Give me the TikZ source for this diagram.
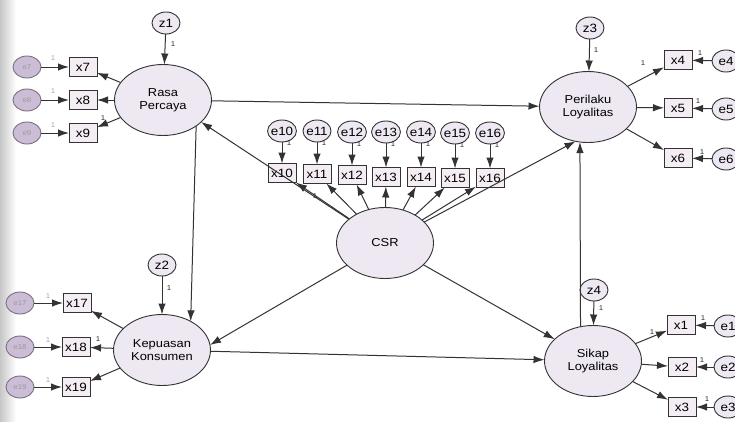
\documentclass[tikz,border=0pt]{standalone}
\usepackage{fontspec}
\setmainfont{Liberation Sans}[FakeStretch=1.12]
\usepackage{tkz-graph}
\usetikzlibrary{arrows.meta,shapes.geometric}

\definecolor{lila}{HTML}{EEE8F2}
\definecolor{lilabox}{HTML}{F4EEF4}
\definecolor{lilafade}{HTML}{CBBDD6}
\definecolor{trait}{HTML}{333333}

\tikzset{
  lat/.style={shape=ellipse,draw=trait,line width=0.9pt,fill=lila,minimum width=97pt,
    minimum height=71pt,inner sep=0pt,align=center,font=\fontsize{11.5}{13.5}\selectfont},
  obs/.style={shape=rectangle,draw=trait,line width=0.9pt,fill=lilabox,minimum width=28pt,
    minimum height=19pt,inner sep=1pt,font=\fontsize{12}{13}\selectfont},
  err/.style={shape=ellipse,draw=trait,line width=0.9pt,fill=lila,minimum width=28pt,
    minimum height=22pt,inner sep=-1pt,font=\fontsize{12}{13}\selectfont},
  errfade/.style={err,fill=lilafade,draw=lilafade!60!black,text=black!40,
    font=\fontsize{7}{8}\selectfont},
  one/.style={inner sep=0pt,font=\fontsize{7}{8}\selectfont,text=black!85},
  onefade/.style={one,text=black!35},
  jalur/.style={draw=trait,line width=1pt,-{Latex[length=11pt,width=7.5pt]}},
}

\begin{document}
\begin{tikzpicture}[x=1pt,y=-1pt]
\useasboundingbox (0,0) rectangle (735,421);
\shade[left color=black!22,right color=white] (0,0) rectangle (16,421);
\GraphInit[vstyle=Normal]
% variabel laten
\tikzset{VertexStyle/.style={lat}}
\Vertex[x=163,y=100,L={Rasa\\Percaya}]{RP}
\Vertex[x=162,y=350,L={Kepuasan\\Konsumen}]{KK}
\Vertex[x=588,y=107,L={Perilaku\\Loyalitas}]{PL}
\Vertex[x=593,y=361,L={Sikap\\Loyalitas}]{SL}
\Vertex[x=385,y=243,L=CSR]{CSR}
% indikator
\tikzset{VertexStyle/.style={obs}}
\Vertex[x=83,y=67,L=x7]{x7}
\Vertex[x=83,y=100,L=x8]{x8}
\Vertex[x=83,y=133,L=x9]{x9}
\Vertex[x=77,y=303,L=x17]{x17}
\Vertex[x=76,y=347,L=x18]{x18}
\Vertex[x=76,y=387,L=x19]{x19}
\Vertex[x=678,y=60,L=x4]{x4}
\Vertex[x=678,y=108,L=x5]{x5}
\Vertex[x=678,y=158,L=x6]{x6}
\Vertex[x=681,y=325,L=x1]{x1}
\Vertex[x=682,y=367,L=x2]{x2}
\Vertex[x=682,y=407,L=x3]{x3}
\Vertex[x=282,y=173,L=x10]{x10}
\Vertex[x=317,y=174,L=x11]{x11}
\Vertex[x=352,y=175,L=x12]{x12}
\Vertex[x=386,y=177,L=x13]{x13}
\Vertex[x=421,y=177,L=x14]{x14}
\Vertex[x=455,y=178,L=x15]{x15}
\Vertex[x=490,y=178,L=x16]{x16}
% residual dan error
\tikzset{VertexStyle/.style={err}}
\Vertex[x=166,y=23,L=z1]{z1}
\Vertex[x=162,y=265,L=z2]{z2}
\Vertex[x=590,y=28,L=z3]{z3}
\Vertex[x=594,y=290,L=z4]{z4}
\Vertex[x=282,y=131,L=e10]{e10}
\Vertex[x=317,y=131,L=e11]{e11}
\Vertex[x=352,y=132,L=e12]{e12}
\Vertex[x=386,y=132,L=e13]{e13}
\Vertex[x=421,y=132,L=e14]{e14}
\Vertex[x=455,y=133,L=e15]{e15}
\Vertex[x=490,y=133,L=e16]{e16}
\Vertex[x=726,y=61,L=e4]{e4}
\Vertex[x=726,y=109,L=e5]{e5}
\Vertex[x=726,y=159,L=e6]{e6}
\Vertex[x=728,y=326,L=e1]{e1}
\Vertex[x=728,y=367,L=e2]{e2}
\Vertex[x=728,y=407,L=e3]{e3}
\tikzset{VertexStyle/.style={errfade}}
\Vertex[x=27,y=67,L=e7]{e7}
\Vertex[x=27,y=100,L=e8]{e8}
\Vertex[x=27,y=133,L=e9]{e9}
\Vertex[x=20,y=303,L=e17]{e17}
\Vertex[x=20,y=347,L=e18]{e18}
\Vertex[x=20,y=387,L=e19]{e19}
% jalur struktural
\draw[jalur] (RP) -- (PL);
\draw[jalur] (RP.322) -- (KK.45);
\draw[jalur] (CSR) -- (RP.330);
\draw[jalur] (CSR) -- (KK.6);
\draw[jalur] (CSR) -- (PL.250);
\draw[jalur] (CSR) -- (SL);
\draw[jalur] (KK) -- (SL);
\draw[jalur] (SL.110) -- (PL.257);
\draw[jalur] (z1) -- (RP);
\draw[jalur] (z2) -- (KK);
\draw[jalur] (z3) -- (PL);
\draw[jalur] (z4) -- (SL);
% jalur pengukuran
\draw[jalur] (RP) -- (x7);
\draw[jalur] (RP) -- (x8);
\draw[jalur] (RP) -- (x9);
\draw[jalur] (KK) -- (x17);
\draw[jalur] (KK) -- (x18);
\draw[jalur] (KK) -- (x19);
\draw[jalur] (PL) -- (x4);
\draw[jalur] (PL) -- (x5);
\draw[jalur] (PL) -- (x6);
\draw[jalur] (SL) -- (x1);
\draw[jalur] (SL) -- (x2);
\draw[jalur] (SL) -- (x3);
\draw[jalur] (CSR) -- (x10);
\draw[jalur] (CSR) -- (x11);
\draw[jalur] (CSR) -- (x12);
\draw[jalur] (CSR) -- (x13);
\draw[jalur] (CSR) -- (x14);
\draw[jalur] (CSR) -- (x15);
\draw[jalur] (CSR) -- (x16);
\draw[jalur] (e7) -- (x7);
\draw[jalur] (e8) -- (x8);
\draw[jalur] (e9) -- (x9);
\draw[jalur] (e17) -- (x17);
\draw[jalur] (e18) -- (x18);
\draw[jalur] (e19) -- (x19);
\draw[jalur] (e4) -- (x4);
\draw[jalur] (e5) -- (x5);
\draw[jalur] (e6) -- (x6);
\draw[jalur] (e1) -- (x1);
\draw[jalur] (e2) -- (x2);
\draw[jalur] (e3) -- (x3);
\draw[jalur] (e10) -- (x10);
\draw[jalur] (e11) -- (x11);
\draw[jalur] (e12) -- (x12);
\draw[jalur] (e13) -- (x13);
\draw[jalur] (e14) -- (x14);
\draw[jalur] (e15) -- (x15);
\draw[jalur] (e16) -- (x16);
% bobot 1
\node[one] (w-z1) at (173,44) {1};
\node[one] (w-z2) at (169,288) {1};
\node[one] (w-z3) at (596,50) {1};
\node[one] (w-z4) at (601,308) {1};
\node[onefade] (w-e7) at (53,58) {1};
\node[onefade] (w-e8) at (53,91) {1};
\node[onefade] (w-e9) at (53,125) {1};
\node[onefade] (w-e17) at (48,296) {1};
\node[onefade] (w-e18) at (48,340) {1};
\node[onefade] (w-e19) at (48,380) {1};
\node[one] (w-x9) at (103,118) {1};
\node[one] (w-x18) at (98,339) {1};
\node[one] (w-e10) at (289,143) {1};
\node[one] (w-e11) at (324,143) {1};
\node[one] (w-e12) at (359,144) {1};
\node[one] (w-e13) at (393,144) {1};
\node[one] (w-e14) at (428,144) {1};
\node[one] (w-e15) at (462,145) {1};
\node[one] (w-e16) at (497,145) {1};
\node[one] (w-x11) at (315,196) {1};
\node[one] (w-x4) at (643,63) {1};
\node[one] (w-e4) at (700,53) {1};
\node[one] (w-e5) at (698,101) {1};
\node[one] (w-e6) at (702,152) {1};
\node[one] (w-x1) at (652,332) {1};
\node[one] (w-e1) at (703,318) {1};
\node[one] (w-e2) at (702,360) {1};
\node[one] (w-e3) at (707,399) {1};
\end{tikzpicture}
\end{document}
